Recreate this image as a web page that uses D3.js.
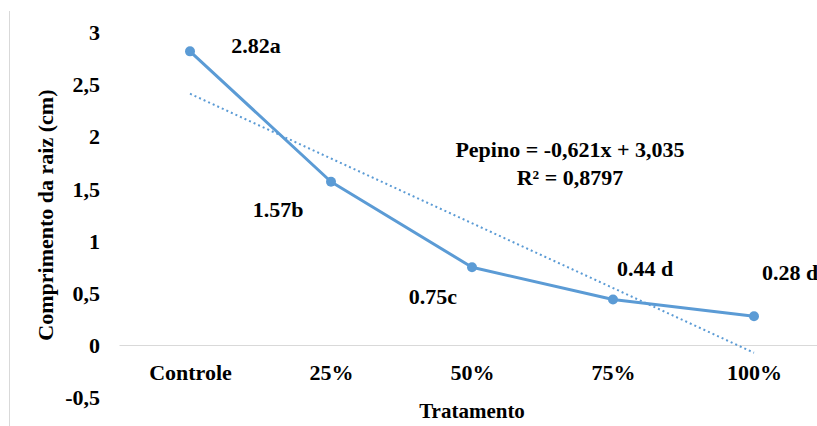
<!DOCTYPE html>
<html>
<head>
<meta charset="utf-8">
<script src="https://cdn.jsdelivr.net/npm/d3@7"></script>
<style>
  html, body { margin: 0; padding: 0; background: #fff; }
  svg { display: block; }
  text { font-family: "Liberation Serif", "Times New Roman", serif; font-weight: bold; fill: #000; }
</style>
</head>
<body>
<div id="chart"></div>
<script>
// data
const categories = ["Controle", "25%", "50%", "75%", "100%"];
const values = [2.82, 1.57, 0.75, 0.44, 0.28];
const pointLabels = ["2.82a", "1.57b", "0.75c", "0.44 d", "0.28 d"];
const yTicks = [-0.5, 0, 0.5, 1, 1.5, 2, 2.5, 3];
const trend = { slope: -0.621, intercept: 3.035, r2: "0,8797" };

// manual label placement (pixel offsets from each point), like the hand-moved Excel labels
const labelOffsets = [[66, 2], [-53, 35], [-39, 37], [32, -24], [36, -36]];

const W = 817, H = 426;
const blue = "#5b9bd5";

const svg = d3.select("#chart")
  .append("svg")
  .attr("width", W)
  .attr("height", H)
  .attr("viewBox", `0 0 ${W} ${H}`);

const x = d3.scalePoint()
  .domain(categories)
  .range([119.5, 824.5])
  .padding(0.5);

const y = d3.scaleLinear()
  .domain([-0.5, 3])
  .range([397.6, 32.6]);

// chart border (only the left edge is in view)
svg.append("line")
  .attr("x1", 9.5).attr("x2", 9.5)
  .attr("y1", 11).attr("y2", H)
  .attr("stroke", "#d9d9d9");

// zero line
svg.append("line")
  .attr("x1", 119.5).attr("x2", W)
  .attr("y1", Math.round(y(0)) + 0.5).attr("y2", Math.round(y(0)) + 0.5)
  .attr("stroke", "#d9d9d9")
  .attr("stroke-width", 1);

// y axis (labels only)
const yAxisG = svg.append("g")
  .attr("transform", "translate(119.5,0)")
  .call(d3.axisLeft(y)
    .tickValues(yTicks)
    .tickSize(0)
    .tickPadding(19.5)
    .tickFormat(d => String(d).replace(".", ",")));
yAxisG.select(".domain").remove();
yAxisG.selectAll("text")
  .attr("font-size", 22)
  .attr("font-family", null);

// x axis (labels only)
const xAxisG = svg.append("g")
  .attr("transform", `translate(0,${y(0)})`)
  .call(d3.axisBottom(x).tickSize(0).tickPadding(19));
xAxisG.select(".domain").remove();
xAxisG.selectAll("text")
  .attr("font-size", 22)
  .attr("font-family", null);

// axis titles
svg.append("text")
  .attr("x", x.range()[0] / 2 + x.range()[1] / 2)
  .attr("y", 418)
  .attr("text-anchor", "middle")
  .attr("font-size", 21)
  .text("Tratamento");

svg.append("text")
  .attr("transform", `translate(53,${(y(-0.5) + y(3)) / 2}) rotate(-90)`)
  .attr("text-anchor", "middle")
  .attr("font-size", 22)
  .text("Comprimento da raiz (cm)");

// linear trendline, x = 1..n
const trendPts = [1, categories.length].map(i => ({
  cx: x(categories[i - 1]),
  v: trend.slope * i + trend.intercept
}));
svg.append("line")
  .attr("x1", trendPts[0].cx).attr("y1", y(trendPts[0].v))
  .attr("x2", trendPts[1].cx).attr("y2", y(trendPts[1].v))
  .attr("stroke", blue)
  .attr("stroke-width", 2)
  .attr("stroke-dasharray", "2,3");

// series line + markers
const data = categories.map((c, i) => ({ c, v: values[i], label: pointLabels[i], off: labelOffsets[i] }));

svg.append("path")
  .datum(data)
  .attr("fill", "none")
  .attr("stroke", blue)
  .attr("stroke-width", 3)
  .attr("stroke-linejoin", "round")
  .attr("d", d3.line().x(d => x(d.c)).y(d => y(d.v)));

svg.append("g")
  .selectAll("circle")
  .data(data)
  .join("circle")
  .attr("cx", d => x(d.c))
  .attr("cy", d => y(d.v))
  .attr("r", 5)
  .attr("fill", blue);

// data labels
svg.append("g")
  .selectAll("text")
  .data(data)
  .join("text")
  .attr("x", d => x(d.c) + d.off[0])
  .attr("y", d => y(d.v) + d.off[1])
  .attr("text-anchor", "middle")
  .attr("font-size", 22)
  .text(d => d.label);

// trendline equation
const eq = svg.append("text")
  .attr("text-anchor", "middle")
  .attr("font-size", 22);
eq.append("tspan")
  .attr("x", 570).attr("y", 157)
  .text(`Pepino = ${String(trend.slope).replace(".", ",")}x + ${String(trend.intercept).replace(".", ",")}`);
eq.append("tspan")
  .attr("x", 570).attr("y", 185)
  .text(`R² = ${trend.r2}`);
</script>
</body>
</html>
